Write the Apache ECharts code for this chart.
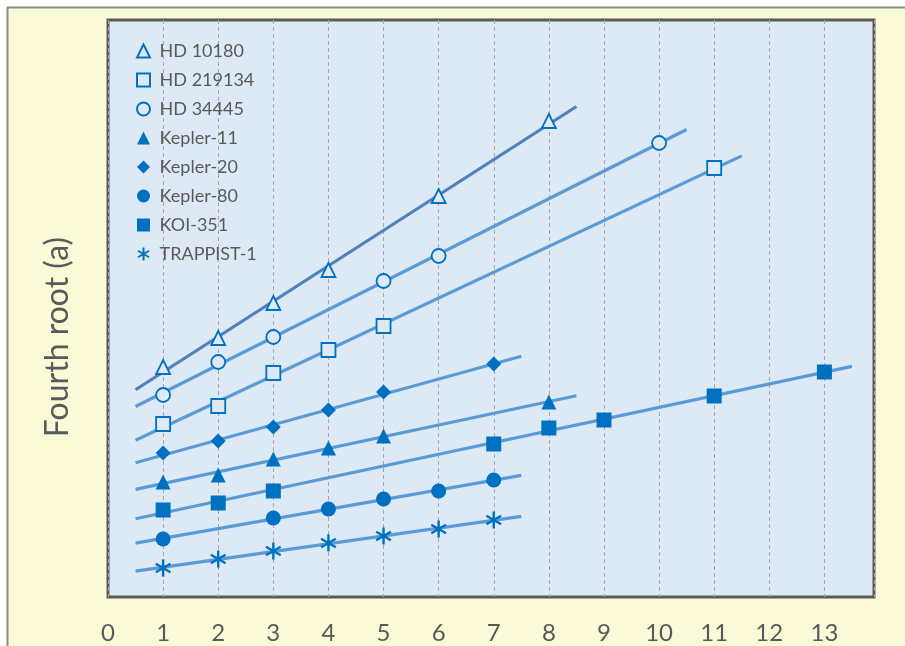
<!DOCTYPE html>
<html>
<head>
<meta charset="utf-8">
<script src="https://cdn.jsdelivr.net/npm/echarts@6/dist/echarts.min.js"></script>
<style>html,body{margin:0;padding:0;background:#fff;}#c{width:905px;height:646px;}</style>
</head>
<body>
<div id="c"></div>
<script>
// Planet order number (x) and fourth root of semi-major axis (arbitrary units)
const hd10180X = [1, 2, 3, 4, 6, 8];
const hd10180Y = [23.0, 25.9, 29.4, 32.7, 40.1, 47.6];
const hd219134X = [1, 2, 3, 4, 5, 11];
const hd219134Y = [17.3, 19.1, 22.4, 24.7, 27.1, 42.9];
const hd34445X = [1, 2, 3, 5, 6, 10];
const hd34445Y = [20.2, 23.5, 26.0, 31.6, 34.1, 45.4];
const kepler11X = [1, 2, 3, 4, 5, 8];
const kepler11Y = [11.5, 12.2, 13.8, 14.9, 16.1, 19.5];
const kepler20X = [1, 2, 3, 4, 5, 7];
const kepler20Y = [14.4, 15.6, 17.0, 18.7, 20.5, 23.3];
const kepler80X = [1, 3, 4, 5, 6, 7];
const kepler80Y = [5.8, 7.9, 8.8, 9.8, 10.6, 11.7];
const koi351X = [1, 2, 3, 7, 8, 9, 11, 13];
const koi351Y = [8.7, 9.4, 10.6, 15.3, 16.9, 17.7, 20.1, 22.5];
const trappistX = [1, 2, 3, 4, 5, 6, 7];
const trappistY = [2.9, 3.8, 4.6, 5.4, 6.1, 6.8, 7.7];
const xTickLabels = ['0','1','2','3','4','5','6','7','8','9','10','11','12','13'];

const BG = '#DDEAF6';
const MK = '#0070C0';
const ASTERISK = 'path://M5,0 L5,10 M0.67,2.5 L9.33,7.5 M0.67,7.5 L9.33,2.5';

const systems = [
  {name:'HD 10180', x:hd10180X, y:hd10180Y, symbol:'triangle', open:true, trend:'#4F81BD'},
  {name:'HD 219134', x:hd219134X, y:hd219134Y, symbol:'rect', open:true, trend:'#5B9BD5'},
  {name:'HD 34445', x:hd34445X, y:hd34445Y, symbol:'circle', open:true, trend:'#5B9BD5'},
  {name:'Kepler-11', x:kepler11X, y:kepler11Y, symbol:'triangle', open:false, trend:'#5B9BD5'},
  {name:'Kepler-20', x:kepler20X, y:kepler20Y, symbol:'diamond', open:false, trend:'#5B9BD5'},
  {name:'Kepler-80', x:kepler80X, y:kepler80Y, symbol:'circle', open:false, trend:'#5B9BD5'},
  {name:'KOI-351', x:koi351X, y:koi351Y, symbol:'rect', open:false, trend:'#5B9BD5'},
  {name:'TRAPPIST-1', x:trappistX, y:trappistY, symbol:ASTERISK, open:false, star:true, trend:'#5B9BD5'}
];

function regress(xs, ys) {
  const n = xs.length;
  const mx = xs.reduce((a,b)=>a+b,0)/n, my = ys.reduce((a,b)=>a+b,0)/n;
  let sxy = 0, sxx = 0;
  for (let i=0;i<n;i++){ sxy += (xs[i]-mx)*(ys[i]-my); sxx += (xs[i]-mx)*(xs[i]-mx); }
  const k = sxy/sxx; return {k, b: my - k*mx};
}

const series = [];
systems.forEach(s => {
  const r = regress(s.x, s.y);
  const x0 = s.x[0] - 0.5, x1 = s.x[s.x.length-1] + 0.5;
  series.push({
    name: s.name + ' trend', type:'line', symbol:'none', silent:true, z:2,
    data: [[x0, r.k*x0 + r.b], [x1, r.k*x1 + r.b]],
    lineStyle: {color: s.trend, width: 3.2}
  });
});
systems.forEach(s => {
  let itemStyle, size = 14;
  if (s.star) { itemStyle = {color: MK, borderColor: MK, borderWidth: 2.4, opacity: 1}; size = 17; }
  else if (s.open) { itemStyle = {color: BG, borderColor: MK, borderWidth: 1.8, opacity: 1}; size = 14; }
  else { itemStyle = {color: MK, borderColor: MK, borderWidth: 0, opacity: 1}; size = 15; }
  series.push({
    name: s.name, type:'scatter', symbol: s.symbol, symbolSize: size, symbolKeepAspect: true, z:3,
    data: s.x.map((v,i)=>[v, s.y[i]]),
    itemStyle
  });
});

const chart = echarts.init(document.getElementById('c'), null, {renderer:'canvas'});
chart.setOption({
  backgroundColor: '#FAFAD8',
  animation: false,
  textStyle: {fontFamily: 'Lato'},
  grid: {left:108, right:31, top:20, bottom:49, show:true, backgroundColor: BG, borderColor:'#595959', borderWidth:3},
  xAxis: {
    type:'value', min:0, max:13.9, interval:1,
    axisLine:{show:false}, axisTick:{show:false},
    axisLabel:{color:'#595959', fontSize:24, fontFamily:'Lato', margin:24,
      formatter: v => (Number.isInteger(v) ? xTickLabels[v] : '')},
    splitLine:{show:true, lineStyle:{color:'#A6A6A6', type:[4,3], width:1}}
  },
  yAxis: {type:'value', min:0, max:57.7, show:false, splitLine:{show:false}},
  legend: {
    data: systems.map(s=>s.name), orient:'vertical', left:131, top:37,
    itemWidth:13, itemHeight:13, itemGap:11,
    formatter: ' {name}',
    textStyle:{color:'#595959', fontSize:18, fontFamily:'Lato'}
  },
  graphic: [
    {type:'rect', shape:{x:0,y:0,width:905,height:7}, style:{fill:'#fff'}, silent:true},
    {type:'rect', shape:{x:0,y:0,width:7,height:646}, style:{fill:'#fff'}, silent:true},
    {type:'line', shape:{x1:7,y1:7.5,x2:905,y2:7.5}, style:{stroke:'#8C8C8C', lineWidth:2}, silent:true},
    {type:'line', shape:{x1:7.5,y1:7,x2:7.5,y2:646}, style:{stroke:'#8C8C8C', lineWidth:2}, silent:true},
    {type:'text', x:58, y:337, rotation:Math.PI/2, silent:true,
      style:{text:'Fourth root (a)', fill:'#595959', fontSize:32, fontFamily:'Lato', align:'center', verticalAlign:'middle'}}
  ],
  series
});
</script>
</body>
</html>
